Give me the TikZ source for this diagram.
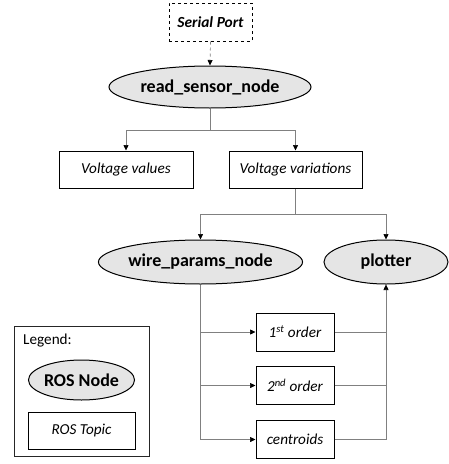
\documentclass[tikz,border=0pt]{standalone}
\usepackage{fontspec}
\setmainfont{Carlito}
\usetikzlibrary{shapes.geometric,arrows.meta,calc}
\begin{document}
\begin{tikzpicture}[x=1pt,y=-1pt,
  rosnode/.style={ellipse,draw=black,line width=1pt,fill=black!10,inner sep=0pt,font=\fontsize{18}{20}\selectfont\bfseries},
  topic/.style={rectangle,draw=black,line width=1pt,fill=white,inner sep=0pt,font=\fontsize{15.2}{17}\selectfont\itshape},
  conn/.style={draw=black!50,line width=0.7pt},
  arr/.style={conn,-{Triangle[width=5pt,length=5.5pt,fill=black,color=black]}},
]
\useasboundingbox (0,0) rectangle (449,464);
% nodes
\node[topic,dashed,minimum width=83pt,minimum height=38pt,font=\fontsize{15.4}{17}\selectfont\bfseries\itshape] (sp) at (210.5,22) {Serial Port};
\node[rosnode,minimum width=202pt,minimum height=42pt] (rs) at (210,87) {read\_sensor\_node};
\node[topic,minimum width=134pt,minimum height=37pt] (vval) at (126,169.5) {Voltage values};
\node[topic,minimum width=133pt,minimum height=37pt] (vvar) at (295.5,169.5) {Voltage variations};
\node[rosnode,minimum width=203pt,minimum height=44pt] (wp) at (200.5,262) {wire\_params\_node};
\node[rosnode,minimum width=124pt,minimum height=44pt] (pl) at (386,262) {plotter};
\node[topic,minimum width=78pt,minimum height=38pt] (o1) at (295,332) {1\textsuperscript{st} order};
\node[topic,minimum width=78pt,minimum height=38pt] (o2) at (295,385.5) {2\textsuperscript{nd} order};
\node[topic,minimum width=78pt,minimum height=38pt] (o3) at (295,439.5) {centroids};
% legend
\node[rectangle,draw=black!85,line width=1pt,minimum width=135pt,minimum height=130pt,inner sep=0pt] (leg) at (81.5,391.5) {};
\node[anchor=base west,inner sep=0pt,font=\fontsize{15.2}{17}\selectfont] (legt) at (23,344) {Legend:};
\node[rosnode,minimum width=105pt,minimum height=40pt] (ln) at (81.5,380) {ROS Node};
\node[topic,minimum width=107pt,minimum height=37pt] (lt) at (81.5,430.5) {ROS Topic};
% connectors
\draw[conn,dashed,-{Triangle[width=5pt,length=5.5pt,fill=black,color=black]}] (sp.south) -- (rs.north);
\coordinate (j1) at (210,130);
\draw[conn] (rs.south) -- (j1);
\draw[arr] (j1) -| (vval.north);
\draw[arr] (j1) -| (vvar.north);
\coordinate (j2) at (295.5,214);
\draw[conn] (vvar.south) -- (j2);
\draw[arr] (j2) -| (wp.north);
\draw[arr] (j2) -| (pl.north);
\draw[arr] (wp.south) |- (o1.west);
\draw[arr] (wp.south) |- (o2.west);
\draw[arr] (wp.south) |- (o3.west);
\draw[arr] (o3.east) -| (pl.south);
\draw[conn] (o1.east) -- (o1.east -| pl.south);
\draw[conn] (o2.east) -- (o2.east -| pl.south);
\end{tikzpicture}
\end{document}
